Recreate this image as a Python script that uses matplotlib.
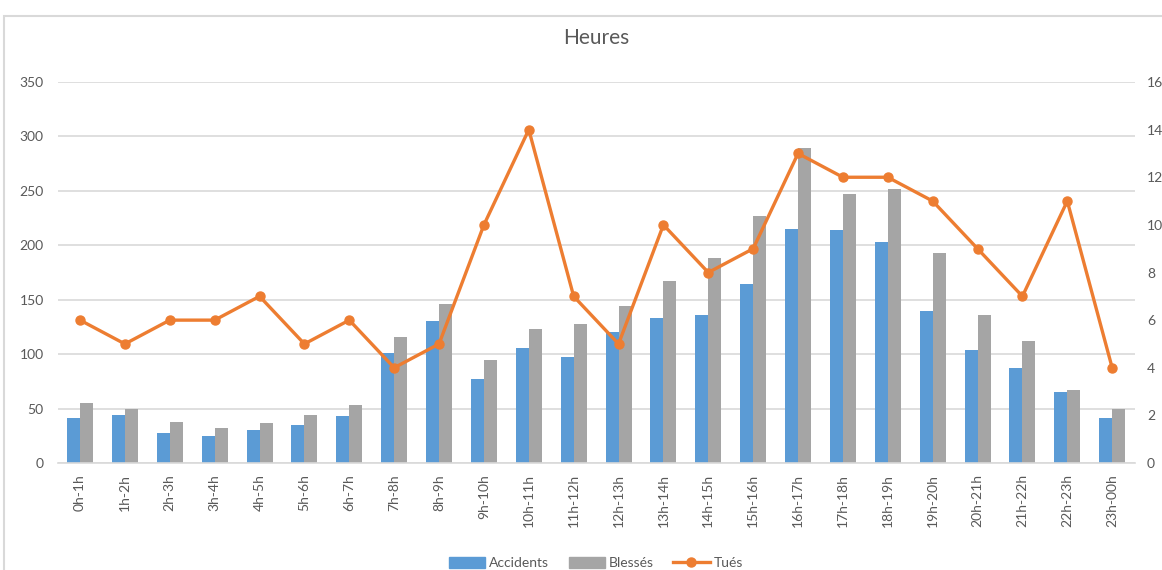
import matplotlib
matplotlib.use("Agg")
import matplotlib.pyplot as plt
from matplotlib.patches import Rectangle
from matplotlib.lines import Line2D
import numpy as np

plt.rcParams['font.family'] = ['Lato', 'DejaVu Sans']

categories = ["0h-1h", "1h-2h", "2h-3h", "3h-4h", "4h-5h", "5h-6h", "6h-7h", "7h-8h",
              "8h-9h", "9h-10h", "10h-11h", "11h-12h", "12h-13h", "13h-14h", "14h-15h",
              "15h-16h", "16h-17h", "17h-18h", "18h-19h", "19h-20h", "20h-21h", "21h-22h",
              "22h-23h", "23h-00h"]
accidents = [41, 44, 28, 25, 30, 35, 43, 101, 130, 77, 106, 97, 120, 133, 136, 164,
             215, 214, 203, 140, 104, 87, 65, 41]
blesses = [55, 50, 38, 32, 37, 44, 53, 116, 146, 95, 123, 128, 144, 167, 188, 227,
           289, 247, 252, 193, 136, 112, 67, 50]
tues = [6, 5, 6, 6, 7, 5, 6, 4, 5, 10, 14, 7, 5, 10, 8, 9, 13, 12, 12, 11, 9, 7, 11, 4]

C_BLUE = "#5B9BD5"
C_GRAY = "#A5A5A5"
C_ORANGE = "#ED7D31"
C_GRID = "#D9D9D9"
C_TEXT = "#595959"

W, H = 1162, 570
fig = plt.figure(figsize=(W / 100, H / 100), dpi=100)

left, right = 57.6 / W, 1134.6 / W
bottom, top = (H - 463) / H, (H - 82) / H
ax = fig.add_axes([left, bottom, right - left, top - bottom])

x = np.arange(len(categories))
bw = 0.29
ax.bar(x - bw / 2, accidents, width=bw, color=C_BLUE, label="Accidents", zorder=2)
ax.bar(x + bw / 2, blesses, width=bw, color=C_GRAY, label="Blessés", zorder=2)

ax.set_xlim(-0.5, len(categories) - 0.5)
ax.set_ylim(0, 350)
ax.set_yticks(np.arange(0, 351, 50))
ax.yaxis.grid(True, color=C_GRID, linewidth=1.2)
ax.set_axisbelow(True)
for s in ["top", "right", "left"]:
    ax.spines[s].set_visible(False)
ax.spines["bottom"].set_color(C_GRID)
ax.spines["bottom"].set_linewidth(1.2)
ax.set_xticks(x)
ax.set_xticklabels(categories, rotation=90, fontsize=10, color=C_TEXT)
ax.tick_params(axis="both", length=0, colors=C_TEXT, labelsize=10)
ax.tick_params(axis="y", pad=10)
ax.tick_params(axis="x", pad=8)

ax2 = ax.twinx()
ax2.plot(x, tues, color=C_ORANGE, linewidth=2.4, marker="o", markersize=6.5,
         label="Tués", zorder=3)
ax2.set_ylim(0, 16)
ax2.set_yticks(np.arange(0, 17, 2))
for s in ["top", "right", "left", "bottom"]:
    ax2.spines[s].set_visible(False)
ax2.tick_params(axis="y", length=0, colors=C_TEXT, labelsize=10, pad=9)

fig.text(596 / W, (H - 38) / H, "Heures", ha="center", va="center",
         fontsize=15, color=C_TEXT)

handles = [Rectangle((0, 0), 1, 1, color=C_BLUE),
           Rectangle((0, 0), 1, 1, color=C_GRAY),
           Line2D([0], [0], color=C_ORANGE, linewidth=2.4, marker="o", markersize=6.5)]
fig.legend(handles, ["Accidents", "Blessés", "Tués"], loc="center",
           bbox_to_anchor=(596 / W, (H - 563) / H), ncol=3, frameon=False,
           fontsize=10, labelcolor=C_TEXT, handlelength=2.6, handleheight=0.9,
           columnspacing=1.4, handletextpad=0.3)

fig.add_artist(Rectangle((4 / W, -0.1), 1.2, (H - 16) / H + 0.1,
                         transform=fig.transFigure, fill=False,
                         edgecolor=C_GRID, linewidth=1.5))

fig.savefig("out.png", dpi=100)
